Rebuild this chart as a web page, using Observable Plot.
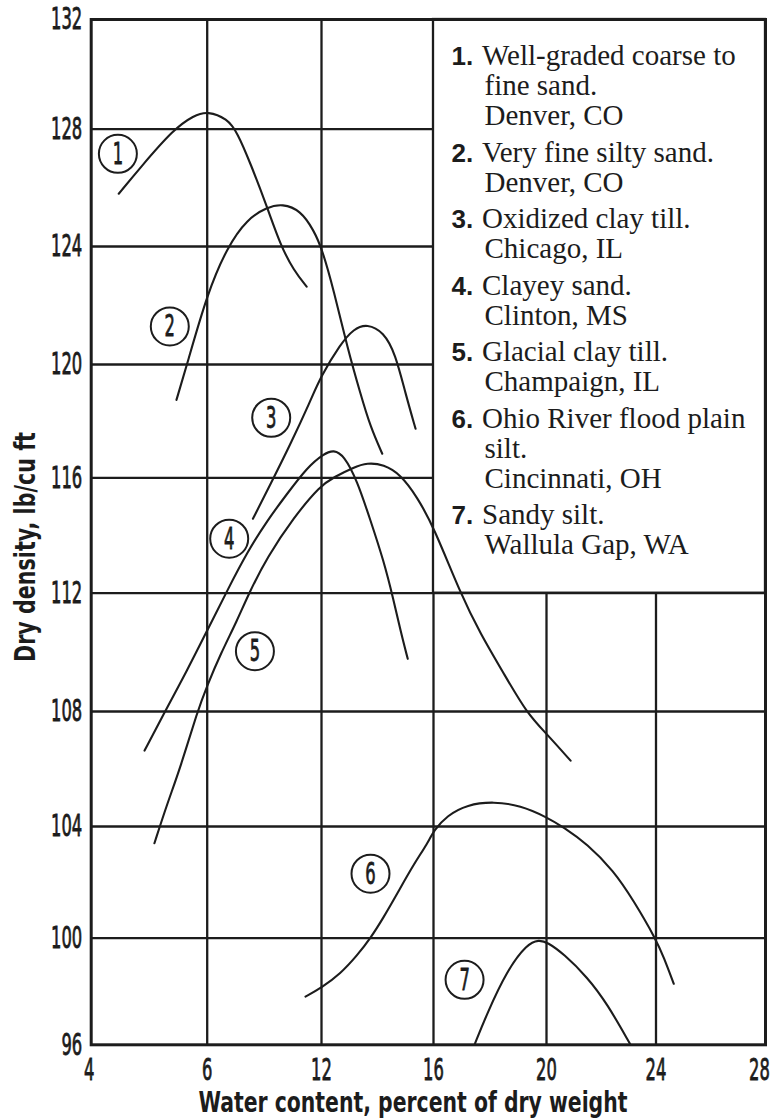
<!DOCTYPE html>
<html>
<head>
<meta charset="utf-8">
<script src="https://cdn.jsdelivr.net/npm/d3@7"></script>
<script src="https://cdn.jsdelivr.net/npm/@observablehq/plot@0.6"></script>
<style>
  html, body { margin: 0; padding: 0; background: #fff; overflow: hidden; }
  #chart { width: 774px; height: 1119px; }
</style>
</head>
<body>
<div id="chart"></div>
<script>
// ---------- data ----------
const xTicks = [4, 8, 12, 16, 20, 24, 28];
const xTickLabels = ["4", "6", "12", "16", "20", "24", "28"]; // as printed on the original
const yTicks = [96, 100, 104, 108, 112, 116, 120, 124, 128, 132];
const xGrid = [8, 12, 16, 20, 24];
const yGrid = [100, 104, 108, 112, 116, 120, 124, 128];

// hand-drawn grid: piecewise warp (pixels) matching the original's grid lines
const xGridPx = [90.7, 206.7, 321, 433, 546, 655.5, 765];
const yGridPx = [1044.3, 937.7, 826, 711, 592.7, 477.3, 364, 246, 128.7, 19];

const curve1 = [[4.95,125.80],[5.70,126.70],[6.85,128.01],[7.54,128.50],[8.02,128.66],[8.70,128.38],[9.05,127.90],[9.52,126.82],[10.10,125.34],[10.57,124.03],[11.03,123.19],[11.48,122.64]];
const curve2 = [[6.94,118.75],[7.31,120.02],[8.00,122.40],[8.70,123.98],[9.40,124.94],[10.10,125.34],[10.63,125.46],[11.27,125.23],[11.73,124.55],[12.02,123.92],[12.44,122.51],[12.92,120.59],[13.39,118.97],[13.75,117.79],[14.17,116.85]];
const curve3 = [[9.60,114.58],[10.22,115.79],[10.92,117.20],[11.62,118.73],[11.96,119.55],[12.68,120.70],[13.15,121.21],[13.63,121.38],[14.22,121.10],[14.64,120.36],[15.00,118.97],[15.36,117.73]];
const curve4 = [[5.84,106.64],[6.50,107.92],[7.31,109.39],[8.00,110.74],[8.70,112.09],[9.40,113.42],[10.10,114.52],[10.80,115.45],[11.50,116.37],[12.08,116.85],[12.44,116.99],[12.80,116.79],[13.27,115.91],[13.75,114.52],[14.22,113.13],[14.58,111.75],[14.82,110.74],[15.08,109.78]];
const curve5 = [[6.18,103.40],[6.62,104.79],[7.08,106.06],[7.66,108.00],[8.00,108.88],[8.47,109.95],[9.05,111.08],[9.46,112.00],[10.10,113.25],[11.03,114.63],[11.96,115.73],[12.44,116.02],[13.15,116.37],[13.63,116.53],[14.22,116.47],[14.82,116.12],[15.42,115.33],[16.01,114.29],[16.96,111.98],[17.66,110.63],[18.49,109.28],[19.32,107.92],[19.99,107.24],[20.88,106.29]];
const curve6 = [[11.44,97.81],[12.00,98.14],[12.68,98.67],[13.27,99.35],[13.75,100.00],[14.22,100.75],[14.70,101.59],[15.30,102.66],[15.78,103.38],[16.01,103.86],[16.48,104.38],[17.19,104.76],[18.13,104.87],[19.08,104.73],[20.00,104.33],[20.63,103.97],[21.48,103.38],[22.45,102.42],[23.18,101.35],[24.01,99.94],[24.28,99.29],[24.65,98.29]];
const curve7 = [[17.45,96.00],[17.89,97.16],[18.60,98.79],[19.32,99.79],[19.73,99.94],[20.03,99.85],[20.63,99.41],[21.49,98.54],[22.22,97.54],[23.07,96.00]];

const labelIds = ["1", "2", "3", "4", "5", "6", "7"];
const labelX = [4.92, 6.71, 10.24, 8.77, 9.67, 13.75, 17.10];
const labelY = [127.16, 121.29, 118.12, 113.89, 110.04, 102.31, 98.44];

const legendBoxX = [16, 28];
const legendBoxY = [112, 132];
const legendNums = ["1.", "2.", "3.", "4.", "5.", "6.", "7."];
const legendLines = [
  ["Well-graded coarse to", "fine sand.", "Denver, CO"],
  ["Very fine silty sand.", "Denver, CO"],
  ["Oxidized clay till.", "Chicago, IL"],
  ["Clayey sand.", "Clinton, MS"],
  ["Glacial clay till.", "Champaign, IL"],
  ["Ohio River flood plain", "silt.", "Cincinnati, OH"],
  ["Sandy silt.", "Wallula Gap, WA"]
];

const xTitle = "Water content, percent of dry weight";
const yTitle = "Dry density, lb/cu ft";

// ---------- styles ----------
const INK = "#1c1c1c";
const NARROW = "'Liberation Sans Narrow', 'Arial Narrow', 'DejaVu Sans Condensed', 'Liberation Sans', sans-serif";
const SERIF = "'Liberation Serif', 'Times New Roman', 'DejaVu Serif', serif";
const SANS = "'Liberation Sans', Arial, 'DejaVu Sans', sans-serif";

const W = 774, H = 1119;
const mL = xGridPx[0], mR = W - xGridPx[xGridPx.length - 1];
const mT = yGridPx[yGridPx.length - 1], mB = H - yGridPx[0];

// piecewise warps so the hand-drawn, slightly uneven grid is reproduced
const xWarp = d3.scaleLinear().domain(xTicks).range(xGridPx);
const yWarp = d3.scaleLinear().domain(yTicks).range(yGridPx.map(p => H - p));

const curves = [curve1, curve2, curve3, curve4, curve5, curve6, curve7];
const labels = labelIds.map((id, i) => ({id, x: labelX[i], y: labelY[i]}));

const chart = Plot.plot({
  width: W,
  height: H,
  marginLeft: mL,
  marginRight: mR,
  marginTop: mT,
  marginBottom: mB,
  style: {background: "white", fontFamily: NARROW, color: INK},
  x: {transform: xWarp, domain: [xWarp(4), xWarp(28)]},
  y: {transform: yWarp, domain: [yWarp(96), yWarp(132)]},
  marks: [
    Plot.ruleX(xGrid, {stroke: INK, strokeWidth: 2.3}),
    Plot.ruleY(yGrid, {stroke: INK, strokeWidth: 2.3}),
    Plot.rect([0], {
      x1: () => legendBoxX[0], x2: () => legendBoxX[1],
      y1: () => legendBoxY[0], y2: () => legendBoxY[1],
      fill: "white", stroke: INK, strokeWidth: 2.3
    }),
    ...curves.map(c => Plot.line(c, {
      x: d => d[0], y: d => d[1], curve: "basis",
      stroke: INK, strokeWidth: 2.1
    })),
    Plot.dot(labels, {x: "x", y: "y", r: 19, fill: "white", stroke: INK, strokeWidth: 2}),
    Plot.text(labels, {x: "x", y: "y", text: "id", fontSize: 31, fill: INK, fontFamily: NARROW}),
    Plot.frame({stroke: INK, strokeWidth: 3}),
    Plot.axisX(xTicks, {
      tickSize: 0, tickPadding: 13, fontSize: 31, fill: INK, label: null,
      tickFormat: d => xTickLabels[xTicks.indexOf(d)]
    }),
    Plot.axisY(yTicks, {
      tickSize: 0, tickPadding: 9, fontSize: 31, fill: INK, label: null,
      tickFormat: d => String(d)
    })
  ]
});

document.getElementById("chart").appendChild(chart);

const svg = d3.select(chart);

// condensed, medium-weight numerals, like the original's narrow face
const DIGIT_W = 10.4;
svg.selectAll('g[aria-label="x-axis tick label"] text, g[aria-label="y-axis tick label"] text, g[aria-label="text"] text')
  .each(function () {
    const n = this.textContent.length;
    this.setAttribute("textLength", n * DIGIT_W);
    this.setAttribute("lengthAdjust", "spacingAndGlyphs");
    this.setAttribute("stroke", INK);
    this.setAttribute("stroke-width", 0.8);
  });
// the original tucks its end labels inside the page edge
svg.selectAll('g[aria-label="x-axis tick label"] text')
  .filter(function () { return this.textContent === xTickLabels[xTickLabels.length - 1]; })
  .attr("dx", -6);
svg.selectAll('g[aria-label="x-axis tick label"] text')
  .filter(function () { return this.textContent === xTickLabels[0]; })
  .attr("dx", -2);

// axis titles
svg.append("text")
  .attr("x", 413).attr("y", 1111.5)
  .attr("text-anchor", "middle")
  .attr("font-family", NARROW).attr("font-weight", "bold").attr("font-size", 28)
  .attr("fill", INK)
  .attr("textLength", 429).attr("lengthAdjust", "spacingAndGlyphs")
  .text(xTitle);

svg.append("text")
  .attr("transform", "translate(35,547) rotate(-90)")
  .attr("text-anchor", "middle")
  .attr("font-family", NARROW).attr("font-weight", "bold").attr("font-size", 28)
  .attr("fill", INK)
  .attr("textLength", 230).attr("lengthAdjust", "spacingAndGlyphs")
  .text(yTitle);

// legend text inside the box
const lx = xWarp(legendBoxX[0]);
const ly = H - yWarp(legendBoxY[1]);
const legend = svg.append("g").attr("fill", INK).attr("text-anchor", "start");
let by = ly + 46.3;
legendNums.forEach((num, i) => {
  legend.append("text")
    .attr("x", lx + 18.5).attr("y", by)
    .attr("text-anchor", "start")
    .attr("font-family", SANS).attr("font-weight", "bold").attr("font-size", 26)
    .text(num);
  legendLines[i].forEach((line, j) => {
    if (j > 0) by += 30;
    legend.append("text")
      .attr("x", lx + (j === 0 ? 49 : 51.5)).attr("y", by)
      .attr("text-anchor", "start")
      .attr("font-family", SERIF).attr("font-size", 29)
      .text(line);
  });
  by += 36.5;
});
</script>
</body>
</html>
